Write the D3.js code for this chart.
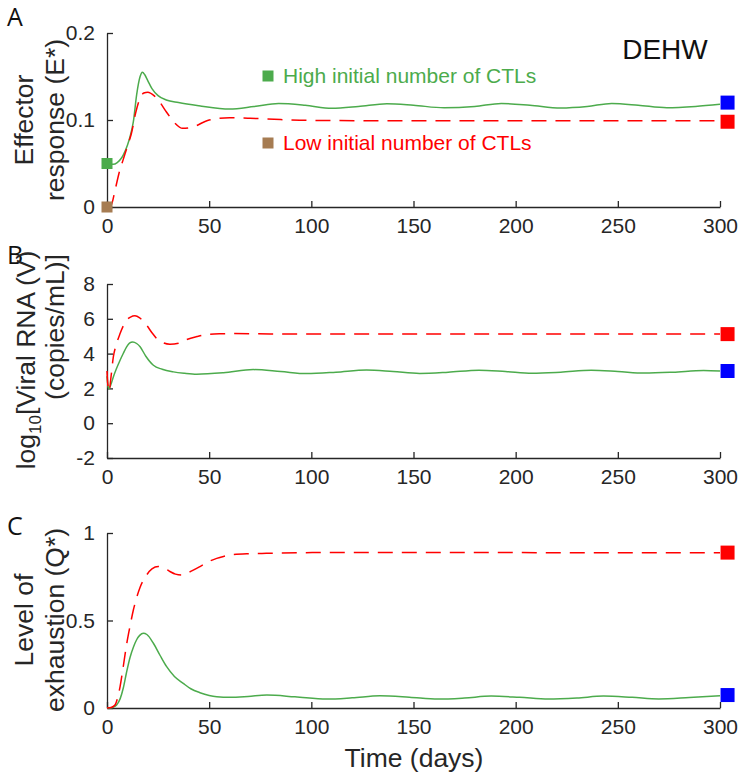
<!DOCTYPE html>
<html><head><meta charset="utf-8">
<script src="https://cdn.jsdelivr.net/npm/d3@7"></script>
<style>body{margin:0;background:#fff}svg{display:block}text{font-family:"Liberation Sans",Arial,sans-serif;fill:#262626}</style>
</head><body><svg id="c" width="742" height="778"></svg>
<script>
// ---------------- data ----------------
const xTicks = [0, 50, 100, 150, 200, 250, 300];

// Panel A: effector response E*
const tA_high = [0,3,5,7,8,10,11.3,12.9,14.5,16.2,17.3,18.5,20,22,25,29,35,45,60,72,84,97,110,123,137,150,165,180,193,207,222,235,247,260,274,288,300];
const vA_high = [.05,.049,.051,.056,.06,.071,.081,.098,.129,.15,.155,.152,.145,.136,.128,.123,.12,.1164,.1126,.1155,.119,.117,.1134,.1155,.1188,.117,.114,.1155,.119,.117,.1138,.1155,.119,.117,.114,.1155,.118];
const tA_low = [0,2,4,6,8,10,12,14,16,18,20,23,26,29,33,37,42,50,60,70,85,100,130,200,300];
const vA_low = [0,.002,.02,.04,.055,.07,.085,.108,.124,.131,.132,.128,.12,.1095,.097,.0904,.092,.1,.1025,.102,.1005,.0995,.0992,.0992,.0992];
const yTicksA = [0, 0.1, 0.2];
const yTickLabelsA = ["0", "0.1", "0.2"];

// Panel B: log10 viral RNA
const tB_high = [0,0.5,1,2,3.1,4.5,6.4,8,9.6,11,12.6,14.5,16.2,19,22.7,27,32.5,38,43.9,57,71.6,85,97.7,112,127,140,153,167,182,195,208,222,237,250,263,277,292,300];
const vB_high = [2.7,2.15,1.98,2.25,2.66,3.1,3.62,4.02,4.39,4.6,4.67,4.58,4.39,3.85,3.33,3.1,2.95,2.87,2.82,2.9,3.08,2.97,2.85,2.93,3.06,2.97,2.86,2.93,3.05,2.97,2.87,2.93,3.04,2.97,2.88,2.93,3.03,3.0];
const tB_low = [0,0.4,1,2,3.1,4.5,6.4,8,9.6,11.5,13.7,16,19.4,22,24.3,27.5,30.8,35,39,44,48.8,55,61.8,80,120,200,300];
const vB_low = [3.0,2.2,1.85,2.7,3.81,4.5,5.15,5.6,5.92,6.1,6.17,6.05,5.63,5.2,4.87,4.62,4.54,4.6,4.81,4.98,5.1,5.14,5.15,5.13,5.12,5.12,5.12];
const yTicksB = [-2, 0, 2, 4, 6, 8];
const yTickLabelsB = ["-2", "0", "2", "4", "6", "8"];

// Panel C: level of exhaustion Q*
const tC_high = [0,1.6,3,4.7,6.5,8,9.5,11.3,13,14.5,16,17.8,19.5,22.7,26,29.2,33,37.3,41,45.5,50,53.7,60.2,69,78.2,92,107.5,120,133.6,148,162,175,188,202,216,230,243,257,270,285,300];
const vC_high = [0,0,.004,.017,.055,.116,.2,.29,.35,.39,.415,.427,.42,.37,.3,.236,.18,.141,.11,.0876,.072,.0648,.061,.066,.074,.064,.051,.058,.07,.062,.051,.057,.068,.061,.051,.057,.068,.061,.052,.06,.07];
const tC_low = [0,2,3.9,5,6.4,8,9.6,11.3,12.9,14.5,16.2,19.4,22,25.1,28,30.8,33.5,36.6,40,45.5,50,53.7,57,61.8,70,78,95,110.8,150,200,250,300];
const vC_low = [0,.003,.017,.05,.122,.24,.364,.47,.56,.63,.69,.76,.795,.808,.8,.78,.765,.76,.775,.808,.838,.855,.866,.877,.882,.884,.887,.889,.889,.888,.887,.887];
const yTicksC = [0, 0.5, 1];
const yTickLabelsC = ["0", "0.5", "1"];

// start / end markers
const startHighA = 0.05, startLowA = 0;
const endT = 303.7;
const endHigh = [0.12, 3.0, 0.074];
const endLow = [0.098, 5.12, 0.888];

const legendLabels = ["High initial number of CTLs", "Low initial number of CTLs"];
const modelName = "DEHW";
const panelLetters = ["A", "B", "C"];

// ---------------- drawing ----------------
const GREEN = "#4cab4c", RED = "#ff0000", BLUE = "#0000ff", BROWN = "#a67c52", AX = "#262626";
const svg = d3.select("#c");
svg.append("rect").attr("width", 742).attr("height", 778).attr("fill", "#fff");

const x = d3.scaleLinear().domain([0, 300]).range([107, 720]);

const panels = [
  {dom:[0,0.2], r:[207,33], ticks:yTicksA, labels:yTickLabelsA, high:[tA_high,vA_high], low:[tA_low,vA_low], lab:[["Effector"],["response (E*)"]], lc:120, letterY:26},
  {dom:[-2,8], r:[458,284], ticks:yTicksB, labels:yTickLabelsB, high:[tB_high,vB_high], low:[tB_low,vB_low], lab:null, lc:360, letterY:264},
  {dom:[0,1], r:[708,533], ticks:yTicksC, labels:yTickLabelsC, high:[tC_high,vC_high], low:[tC_low,vC_low], lab:[["Level of"],["exhaustion (Q*)"]], lc:620, letterY:535}
];

panels.forEach((p, i) => {
  const y = d3.scaleLinear().domain(p.dom).range(p.r);
  const g = svg.append("g");
  const xa = g.append("g").attr("transform", `translate(0,${p.r[0]})`)
    .call(d3.axisBottom(x).tickValues(xTicks).tickSizeInner(-6).tickSizeOuter(0).tickPadding(11).tickFormat(d3.format("d")));
  const ya = g.append("g").attr("transform", `translate(107,0)`)
    .call(d3.axisLeft(y).tickValues(p.ticks).tickSizeInner(-6).tickSizeOuter(0).tickPadding(12).tickFormat((d, k) => p.labels[k]));
  [xa, ya].forEach(a => {
    a.select(".domain").attr("stroke", AX).attr("stroke-width", 1.3);
    a.selectAll(".tick line").attr("stroke", AX).attr("stroke-width", 1.3);
    a.selectAll(".tick text").attr("font-size", 21).attr("fill", AX).style("font-family", '"Liberation Sans",Arial,sans-serif');
  });
  xa.selectAll(".tick text").attr("dy", "0.71em");

  const line = d3.line().x(d => x(d[0])).y(d => y(d[1])).curve(d3.curveMonotoneX);
  const hi = p.high[0].map((t, k) => [t, p.high[1][k]]);
  const lo = p.low[0].map((t, k) => [t, p.low[1][k]]);
  g.append("path").attr("d", line(hi)).attr("fill", "none").attr("stroke", GREEN).attr("stroke-width", 1.5);
  g.append("path").attr("d", line(lo)).attr("fill", "none").attr("stroke", RED).attr("stroke-width", 1.5).attr("stroke-dasharray", "15,9");

  const s = 14;
  g.append("rect").attr("x", x(endT) - s/2).attr("y", y(endHigh[i]) - s/2).attr("width", s).attr("height", s).attr("fill", BLUE);
  g.append("rect").attr("x", x(endT) - s/2).attr("y", y(endLow[i]) - s/2).attr("width", s).attr("height", s).attr("fill", RED);

  if (i === 0) {
    const s2 = 11;
    g.append("rect").attr("x", x(0) - s2/2).attr("y", y(startHighA) - s2/2).attr("width", s2).attr("height", s2).attr("fill", GREEN);
    g.append("rect").attr("x", x(0) - s2/2).attr("y", y(startLowA) - s2/2).attr("width", s2).attr("height", s2).attr("fill", BROWN);
    g.append("rect").attr("x", 268 - s2/2).attr("y", 76 - s2/2).attr("width", s2).attr("height", s2).attr("fill", GREEN);
    g.append("text").attr("x", 283).attr("y", 83).attr("font-size", 21).style("fill", GREEN).text(legendLabels[0]);
    g.append("rect").attr("x", 268 - s2/2).attr("y", 143 - s2/2).attr("width", s2).attr("height", s2).attr("fill", BROWN);
    g.append("text").attr("x", 283).attr("y", 150).attr("font-size", 21).style("fill", RED).text(legendLabels[1]);
    g.append("text").attr("x", 665).attr("y", 59).attr("text-anchor", "middle").attr("font-size", 28).style("fill", "#111").text(modelName);
  }

  svg.append("text").attr("x", 7).attr("y", p.letterY).attr("font-size", 25).style("font-family", '"Open Sans",sans-serif').style("fill", "#111").text(panelLetters[i]);

  const lg = svg.append("g").attr("transform", `translate(0,${p.lc}) rotate(-90)`);
  const fs = 26.5;
  if (p.lab) {
    lg.append("text").attr("x", 0).attr("y", 33).attr("text-anchor", "middle").attr("font-size", fs).text(p.lab[0][0]);
    lg.append("text").attr("x", 0).attr("y", 64).attr("text-anchor", "middle").attr("font-size", fs).text(p.lab[1][0]);
  } else {
    const t1 = lg.append("text").attr("x", 0).attr("y", 35).attr("text-anchor", "middle").attr("font-size", fs);
    t1.append("tspan").text("log");
    t1.append("tspan").attr("font-size", 17).attr("dy", 6).text("10");
    t1.append("tspan").attr("dy", -6).text("[Viral RNA (V)");
    lg.append("text").attr("x", 33).attr("y", 64).attr("text-anchor", "middle").attr("font-size", fs).text("(copies/mL)]");
  }
});

svg.append("text").attr("x", 414).attr("y", 767).attr("text-anchor", "middle").attr("font-size", 26.5).text("Time (days)");
</script></body></html>
